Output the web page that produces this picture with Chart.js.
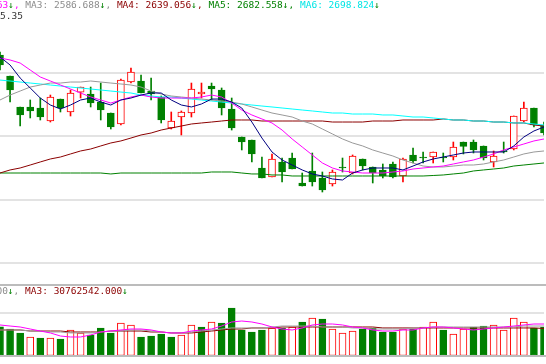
<!DOCTYPE html>
<html>
<head>
<meta charset="utf-8">
<script src="https://cdn.jsdelivr.net/npm/chart.js@4.4.0/dist/chart.umd.min.js"></script>
<style>
  body { margin: 0; background: #fff; }
  #wrap { position: relative; width: 546px; height: 364px; overflow: hidden; background: #fff; }
  canvas { position: absolute; left: 0; }
  #priceChart { top: 0; }
  #volChart { top: 286px; }
  .hline { position: absolute; left: 0; width: 546px; height: 2px; background: #bcbcbc; }
  .t { position: absolute; font-family: "DejaVu Sans Mono", monospace; font-size: 9.5px; line-height: 10px; white-space: pre; z-index: 2; }
  .g { color: #008000; }
</style>
</head>
<body>
<div id="wrap">
  <canvas id="priceChart" width="546" height="270"></canvas>
  <div class="hline" style="top:284px"></div>
  <canvas id="volChart" width="546" height="70"></canvas>
  <div class="hline" style="top:355px"></div>

  <div class="t" style="left:-3.3px; top:0"><span style="color:#ff00ff">63</span><span class="g">↓</span><span style="color:#ff00ff">, </span><span style="color:#8c8c8c">MA3: 2586.688</span><span class="g">↓</span><span style="color:#8c8c8c">, </span><span style="color:#8b0000">MA4: 2639.056</span><span class="g">↓</span><span style="color:#8b0000">, </span><span style="color:#008000">MA5: 2682.558</span><span class="g">↓</span><span style="color:#008000">, </span><span style="color:#00e5e5">MA6: 2698.824</span><span class="g">↓</span></div>
  <div class="t" style="left:0; top:11px; color:#333">5.35</div>
  <div class="t" style="left:-3.6px; top:286.3px"><span style="color:#8c8c8c">00</span><span class="g">↓</span><span style="color:#8c8c8c">, </span><span style="color:#8b0000">MA3: 30762542.000</span><span class="g">↓</span></div>
</div>

<script>
// daily OHLC (index points)
const opens  = [2828.4,2795.3,2746.5,2746.5,2744.9,2724.4,2759.0,2738.6,2770.0,2766.9,2754.3,2737.0,2719.7,2785.8,2787.4,2771.6,2762.2,2713.4,2730.7,2737.0,2766.9,2779.5,2773.2,2743.3,2699.2,2694.5,2650.4,2636.2,2659.9,2666.1,2626.8,2645.7,2634.7,2625.2,2652.0,2642.5,2664.6,2652.0,2647.3,2656.7,2637.8,2670.9,2667.7,2667.7,2667.7,2667.7,2691.3,2691.3,2685.1,2659.9,2677.2,2680.3,2724.4,2744.9,2718.1];
const highs  = [2833.1,2795.3,2746.5,2757.5,2760.6,2765.3,2759.0,2773.2,2777.9,2777.9,2784.2,2737.0,2790.5,2807.9,2796.9,2792.1,2763.8,2738.6,2740.2,2784.2,2784.2,2784.2,2776.4,2760.6,2699.2,2694.5,2667.7,2672.5,2666.1,2674.0,2642.5,2674.0,2644.1,2647.3,2666.1,2670.9,2664.6,2652.0,2656.7,2659.9,2666.1,2681.9,2675.6,2675.6,2674.0,2691.3,2691.3,2694.5,2685.1,2677.2,2691.3,2732.3,2754.3,2744.9,2722.8];
const lows   = [2804.7,2754.3,2716.5,2729.2,2726.0,2722.8,2738.6,2732.3,2760.6,2746.5,2726.0,2711.8,2718.1,2784.2,2768.5,2757.5,2721.3,2711.8,2702.4,2730.7,2760.6,2757.5,2733.9,2710.2,2678.8,2659.9,2634.7,2636.2,2628.4,2648.8,2622.0,2622.0,2612.6,2622.0,2644.1,2641.0,2647.3,2626.8,2634.7,2634.7,2628.4,2658.3,2658.3,2658.3,2659.9,2663.0,2672.5,2674.0,2663.0,2652.0,2674.0,2678.8,2722.8,2715.0,2702.4];
const closes = [2812.6,2773.2,2733.9,2740.2,2730.7,2762.2,2744.9,2768.5,2777.9,2752.7,2741.7,2715.0,2789.0,2801.6,2768.5,2766.9,2726.0,2724.4,2738.6,2774.8,2770.0,2774.8,2744.9,2713.4,2691.3,2672.5,2634.7,2664.6,2644.1,2648.8,2622.0,2628.4,2615.8,2644.1,2650.4,2669.3,2653.5,2642.5,2637.8,2636.2,2664.6,2661.4,2666.1,2675.6,2666.1,2683.5,2684.5,2678.8,2666.1,2669.3,2675.6,2732.3,2744.9,2718.1,2705.5];

// moving averages on price
const ma1 = [2825.2,2812.6,2792.1,2776.4,2760.6,2749.6,2743.3,2749.6,2757.5,2760.6,2754.3,2749.6,2757.5,2760.6,2765.3,2768.5,2768.5,2757.5,2749.6,2746.5,2751.2,2759.0,2759.0,2754.3,2744.9,2722.8,2697.6,2675.6,2663.0,2655.1,2647.3,2641.0,2637.8,2633.1,2631.5,2642.5,2647.3,2650.4,2650.4,2650.4,2647.3,2653.5,2659.9,2664.6,2667.7,2670.9,2674.0,2675.6,2675.6,2675.6,2675.6,2685.1,2699.2,2708.7,2715.0];
const ma2 = [2823.6,2820.5,2815.7,2804.7,2793.7,2787.4,2781.1,2774.8,2768.5,2762.2,2757.5,2752.7,2757.5,2762.2,2765.3,2762.2,2760.6,2760.6,2760.6,2760.6,2762.2,2765.3,2762.2,2752.7,2741.7,2733.9,2727.6,2721.3,2710.2,2696.1,2683.5,2670.9,2658.3,2650.4,2645.7,2644.1,2642.5,2642.5,2642.5,2644.1,2645.7,2648.8,2650.4,2652.0,2653.5,2656.7,2659.9,2663.0,2667.7,2672.5,2678.8,2683.5,2688.2,2693.0,2696.1];
const ma3 = [2757.5,2765.3,2771.6,2777.9,2781.1,2784.2,2784.2,2785.8,2785.8,2787.4,2785.8,2784.2,2782.7,2781.1,2777.9,2771.6,2766.9,2763.8,2762.2,2760.6,2759.0,2757.5,2755.9,2754.3,2751.2,2746.5,2741.7,2737.0,2733.9,2730.7,2724.4,2719.7,2711.8,2704.0,2696.1,2689.8,2685.1,2678.8,2674.0,2669.3,2663.0,2658.3,2653.5,2652.0,2652.0,2653.5,2655.1,2655.1,2656.7,2659.9,2663.0,2667.7,2672.5,2675.6,2677.2];
const ma4 = [2642.5,2647.3,2650.4,2655.1,2659.9,2664.6,2667.7,2672.5,2677.2,2680.3,2685.1,2689.8,2693.0,2697.6,2702.4,2705.5,2710.2,2713.4,2716.5,2719.7,2721.3,2722.8,2724.4,2726.0,2726.0,2726.0,2724.4,2724.4,2724.4,2724.4,2724.4,2724.4,2724.4,2722.8,2722.8,2722.8,2722.8,2724.4,2724.4,2724.4,2726.0,2726.0,2726.0,2726.0,2727.6,2726.0,2726.0,2724.4,2724.4,2722.8,2722.8,2721.3,2721.3,2718.1,2716.5];
const ma5 = [2642.5,2642.5,2642.5,2642.5,2642.5,2642.5,2642.5,2642.5,2642.5,2642.5,2642.5,2641.0,2642.5,2642.5,2642.5,2642.5,2642.5,2642.5,2642.5,2642.5,2642.5,2644.1,2644.1,2644.1,2642.5,2641.0,2641.0,2639.4,2639.4,2637.8,2637.8,2637.8,2637.8,2637.8,2637.8,2637.8,2637.8,2637.8,2637.8,2637.8,2637.8,2637.8,2637.8,2638.6,2639.4,2641.0,2642.5,2645.7,2647.3,2648.8,2650.4,2653.5,2655.1,2656.7,2658.3];
const ma6 = [2788.9,2787.4,2785.8,2784.2,2782.7,2781.1,2779.5,2777.9,2776.4,2774.8,2773.2,2771.6,2770.0,2768.5,2765.3,2763.8,2762.2,2762.2,2760.6,2759.0,2757.5,2755.9,2754.3,2752.7,2751.2,2749.6,2748.0,2746.5,2744.9,2743.3,2741.7,2740.2,2738.6,2737.0,2737.0,2735.4,2735.4,2735.4,2733.9,2733.9,2732.3,2730.7,2730.7,2729.2,2727.6,2726.0,2726.0,2724.4,2724.4,2722.8,2722.8,2721.3,2721.3,2719.7,2718.1];

// volume, millions of shares
const volumes = [32.8,30.2,25.7,21.1,20.0,20.0,18.8,29.1,25.7,23.4,31.4,25.7,37.1,34.8,21.1,22.2,24.5,21.1,23.4,34.8,32.5,38.2,37.1,54.2,29.1,26.8,29.1,31.4,31.4,32.5,38.2,42.8,41.6,30.2,25.7,27.9,30.2,31.4,26.8,26.8,30.2,30.2,32.5,38.2,29.1,24.5,30.2,32.5,33.6,34.8,29.1,42.8,38.2,31.4,32.5];
const volMa1 = [34.8,33.6,32.5,30.2,27.9,25.7,22.2,21.1,21.1,23.4,26.8,27.9,29.1,30.2,30.2,29.1,26.8,25.7,25.7,27.9,29.1,30.2,33.6,38.2,39.3,38.2,35.9,32.5,30.2,29.1,31.4,34.8,35.9,35.9,34.8,32.5,31.4,29.1,27.9,27.9,29.1,29.1,31.4,32.5,32.5,31.4,30.2,29.1,30.2,31.4,32.5,33.6,34.8,35.9,35.9];
const volMa2 = [29.1,29.1,29.1,27.9,27.9,26.8,26.8,25.7,25.7,25.7,26.8,27.9,27.9,29.1,29.1,27.9,26.8,25.7,25.7,26.8,27.9,29.1,30.2,31.4,31.4,31.4,31.4,32.5,33.6,33.6,33.6,33.6,32.5,32.5,32.5,31.4,31.4,30.2,30.2,30.2,30.2,31.4,31.4,32.5,32.5,32.5,32.5,32.5,32.5,32.5,32.5,32.5,33.6,33.6,33.6];
const volMa3 = [29.1,29.1,29.1,27.9,27.9,27.9,27.9,26.8,26.8,26.8,26.8,27.9,27.9,27.9,27.9,26.8,26.8,25.7,25.7,25.7,26.8,27.9,29.1,30.2,30.2,31.4,31.4,31.4,32.5,32.5,32.5,32.5,32.5,32.5,32.5,32.5,32.5,32.5,31.4,31.4,31.4,31.4,31.4,31.4,31.4,31.4,31.4,31.4,31.4,31.4,31.4,31.4,31.4,31.4,30.8];

const priceTicks = [2500, 2600, 2700, 2800];
const volumeTicks = [48.5];

const days = closes.map((_, i) => 'D' + (i + 1));

const RED = '#ff0000';
const GREEN = '#008000';
const up = closes.map((c, i) => c >= opens[i]);
const volUp = closes.map((c, i) => i === 0 ? c >= opens[0] : c >= closes[i - 1]);

function maLine(label, data, color, order) {
  return {
    type: 'line', label, data,
    borderColor: color, borderWidth: 1,
    pointRadius: 0, tension: 0, fill: false, order
  };
}

function hiddenX() {
  return { type: 'category', offset: false, display: false };
}

function gridY(min, max, tickValues) {
  return {
    min, max,
    afterBuildTicks: s => { s.ticks = tickValues.map(v => ({ value: v })); },
    ticks: { display: false },
    grid: { color: '#e3e3e3', lineWidth: 2, drawTicks: false },
    border: { display: false }
  };
}

const common = {
  responsive: false,
  animation: false,
  devicePixelRatio: 1,
  layout: { padding: { left: 0, right: 2, top: 0, bottom: 0 } },
  plugins: { legend: { display: false }, tooltip: { enabled: false } }
};

new Chart(document.getElementById('priceChart'), {
  type: 'bar',
  data: {
    labels: days,
    datasets: [
      maLine('MA1', ma1, '#000080', 1),
      maLine('MA2', ma2, '#ff00ff', 2),
      maLine('MA3', ma3, '#999999', 3),
      maLine('MA6', ma6, '#00ffff', 4),
      maLine('MA4', ma4, '#8b0000', 5),
      maLine('MA5', ma5, '#008000', 6),
      {
        label: 'body',
        data: opens.map((o, i) => [o, closes[i]]),
        backgroundColor: up.map(u => u ? '#ffffff' : GREEN),
        borderColor: up.map(u => u ? RED : GREEN),
        borderWidth: 1,
        borderSkipped: false,
        barThickness: 7,
        grouped: false,
        order: 10
      },
      {
        label: 'wick',
        data: lows.map((l, i) => [l, highs[i]]),
        backgroundColor: up.map(u => u ? RED : GREEN),
        borderWidth: 0,
        barThickness: 1,
        grouped: false,
        order: 11
      }
    ]
  },
  options: {
    ...common,
    scales: {
      x: hiddenX(),
      y: gridY(2489.76, 2914.96, priceTicks)
    }
  }
});

new Chart(document.getElementById('volChart'), {
  type: 'bar',
  data: {
    labels: days,
    datasets: [
      maLine('VMA1', volMa1, '#ff00ff', 1),
      maLine('VMA2', volMa2, '#a0a0a0', 2),
      maLine('VMA3', volMa3, '#8b0000', 3),
      {
        label: 'volume',
        data: volumes,
        backgroundColor: volUp.map(u => u ? '#ffffff' : GREEN),
        borderColor: volUp.map(u => u ? RED : GREEN),
        borderWidth: 1,
        borderSkipped: false,
        barThickness: 7,
        order: 10
      }
    ]
  },
  options: {
    ...common,
    scales: {
      x: hiddenX(),
      y: gridY(-0.57, 79.23, volumeTicks)
    }
  }
});
</script>
</body>
</html>
